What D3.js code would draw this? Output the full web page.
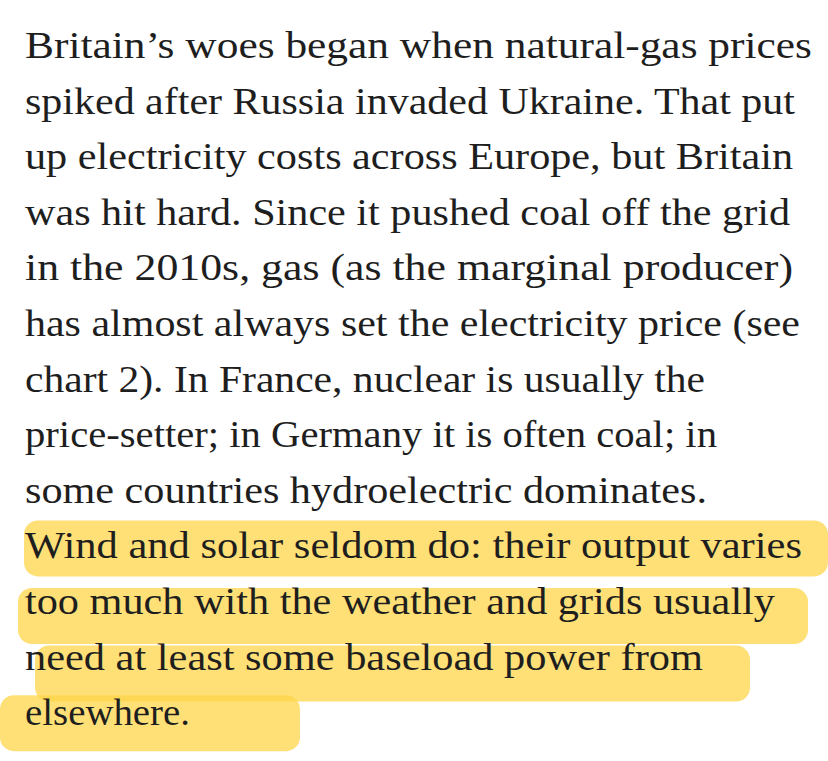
<!DOCTYPE html>
<html><head><meta charset="utf-8">
<script src="https://cdn.jsdelivr.net/npm/d3@7"></script>
<style>body{margin:0;background:#fff}</style>
</head><body>
<svg id="page" width="828" height="761"></svg>
<script>
// Paragraph text, one entry per line, with the right edge of each line
const lines = [
  "Britain\u2019s woes began when natural-gas prices",
  "spiked after Russia invaded Ukraine. That put",
  "up electricity costs across Europe, but Britain",
  "was hit hard. Since it pushed coal off the grid",
  "in the 2010s, gas (as the marginal producer)",
  "has almost always set the electricity price (see",
  "chart 2). In France, nuclear is usually the",
  "price-setter; in Germany it is often coal; in",
  "some countries hydroelectric dominates.",
  "Wind and solar seldom do: their output varies",
  "too much with the weather and grids usually",
  "need at least some baseload power from",
  "elsewhere."
];
const lineEnds = [812, 795, 793, 790, 793, 800, 705, 717, 707, 802, 775, 703, 190];
// highlighter strokes: [line index, x start, x end, y offset from baseline]
const highlights = [[9, 24, 828, -38], [10, 18, 808, -26], [11, 35, 750, -24], [12, 0, 300, -30]];

const svg = d3.select("#page");
const left = 25;
const y = d3.scaleLinear().domain([0, 1]).range([58, 58 + 55.6]);

svg.selectAll("rect.hl").data(highlights).enter().append("rect")
  .attr("class", "hl")
  .attr("x", d => d[1]).attr("width", d => d[2] - d[1])
  .attr("y", d => y(d[0]) + d[3]).attr("height", 56)
  .attr("rx", 14)
  .attr("fill", "#fdd54a").attr("opacity", 0.75);

svg.selectAll("text.ln").data(lines).enter().append("text")
  .attr("class", "ln")
  .attr("x", left)
  .attr("y", (d, i) => y(i))
  .attr("textLength", (d, i) => lineEnds[i] - left)
  .attr("lengthAdjust", "spacingAndGlyphs")
  .style("font-family", "'Liberation Serif', 'DejaVu Serif', serif")
  .style("font-size", "37px")
  .style("fill", "#1e1e1e")
  .text(d => d);
</script>
</body></html>
